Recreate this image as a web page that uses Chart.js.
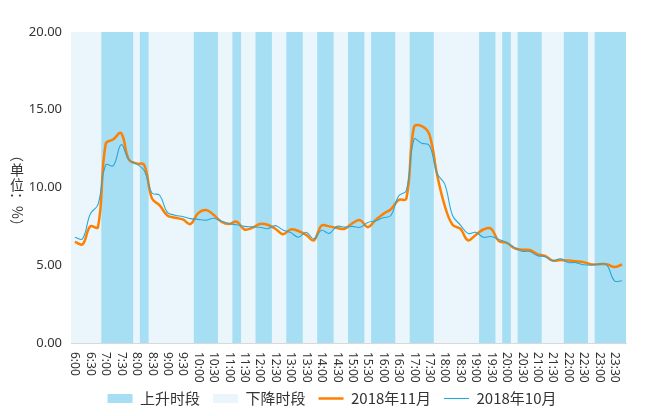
<!DOCTYPE html>
<html>
<head>
<meta charset="utf-8">
<script src="https://cdn.jsdelivr.net/npm/chart.js@4"></script>
<style>
  html, body { margin: 0; padding: 0; background: #fff; }
  #wrap { width: 664px; height: 416px; position: relative; }
</style>
</head>
<body>
<div id="wrap"><canvas id="chart"></canvas></div>
<script>
// 15-minute slots, 6:00 - 23:45
const times = [
  '6:00','6:15','6:30','6:45','7:00','7:15','7:30','7:45','8:00','8:15','8:30','8:45',
  '9:00','9:15','9:30','9:45','10:00','10:15','10:30','10:45','11:00','11:15','11:30','11:45',
  '12:00','12:15','12:30','12:45','13:00','13:15','13:30','13:45','14:00','14:15','14:30','14:45',
  '15:00','15:15','15:30','15:45','16:00','16:15','16:30','16:45','17:00','17:15','17:30','17:45',
  '18:00','18:15','18:30','18:45','19:00','19:15','19:30','19:45','20:00','20:15','20:30','20:45',
  '21:00','21:15','21:30','21:45','22:00','22:15','22:30','22:45','23:00','23:15','23:30','23:45'
];
const tickLabels = [
  '6:00','6:30','7:00','7:30','8:00','8:30','9:00','9:30','10:00','10:30','11:00','11:30',
  '12:00','12:30','13:00','13:30','14:00','14:30','15:00','15:30','16:00','16:30','17:00','17:30',
  '18:00','18:30','19:00','19:30','20:00','20:30','21:00','21:30','22:00','22:30','23:00','23:30'
];

// 1 = 上升时段, 0 = 下降时段
const rising = [
  0,0,0,0,1,1,1,1,0,1,0,0,
  0,0,0,0,1,1,1,0,0,1,0,0,
  1,1,0,0,1,1,0,0,1,1,0,0,
  1,1,0,1,1,1,0,0,1,1,1,0,
  0,0,0,0,0,1,1,0,1,0,1,1,
  1,0,0,0,1,1,1,0,1,1,1,1
];

const nov2018 = [
  6.5, 6.35, 7.5, 7.45, 12.8, 13.1, 13.5, 11.8, 11.55, 11.45, 9.3, 8.85,
  8.2, 8.05, 7.95, 7.65, 8.35, 8.55, 8.25, 7.8, 7.65, 7.8, 7.3, 7.4,
  7.65, 7.6, 7.35, 7.0, 7.3, 7.2, 6.95, 6.6, 7.55, 7.5, 7.4, 7.35,
  7.7, 7.9, 7.45, 7.9, 8.3, 8.6, 9.2, 9.27, 13.9, 13.95, 13.4, 10.8,
  8.8, 7.6, 7.35, 6.6, 6.95, 7.3, 7.35, 6.55, 6.45, 6.1, 6.0, 5.98,
  5.72, 5.6, 5.3, 5.33, 5.3, 5.25, 5.2, 5.05, 5.07, 5.07, 4.88, 5.05
];
const oct2018 = [
  6.8, 6.7, 8.3, 8.9, 11.45, 11.4, 12.75, 11.8, 11.5, 11.1, 9.65, 9.5,
  8.4, 8.22, 8.13, 8.0, 7.95, 7.9, 8.02, 7.85, 7.68, 7.6, 7.5, 7.47,
  7.44, 7.35, 7.55, 7.27, 7.1, 6.8, 7.12, 6.7, 7.25, 7.05, 7.5, 7.45,
  7.5, 7.44, 7.75, 7.85, 8.05, 8.2, 9.45, 9.8, 13.1, 12.85, 12.7, 10.9,
  10.2, 8.2, 7.6, 7.05, 7.12, 6.8, 6.85, 6.65, 6.47, 6.15, 5.9, 5.88,
  5.62, 5.55, 5.3, 5.42, 5.18, 5.17, 5.03, 5.02, 5.07, 5.03, 4.0, 4.0
];

const yMax = 20;
const yTitle = ['（', '单', '位', '：', '%', '）'];
const upright = ['单', '位'];

// x labels read top-to-bottom, plus the vertical y title
const customText = {
  id: 'customText',
  afterDraw(chart) {
    const ctx = chart.ctx;
    const xs = chart.scales.x;
    const area = chart.chartArea;
    ctx.save();
    ctx.fillStyle = '#333';
    ctx.font = '12px "Noto Sans", sans-serif';
    ctx.textAlign = 'left';
    ctx.textBaseline = 'middle';
    tickLabels.forEach(lbl => {
      const px = xs.getPixelForValue(times.indexOf(lbl));
      ctx.save();
      ctx.translate(px, area.bottom + 9);
      ctx.rotate(Math.PI / 2);
      ctx.fillText(lbl, 0, 0);
      ctx.restore();
    });

    // y title: CJK upright, the rest turned
    ctx.font = '14px "Noto Sans CJK SC", sans-serif';
    ctx.textAlign = 'center';
    const sizes = yTitle.map(c => upright.includes(c) ? 15 : ctx.measureText(c).width);
    const total = sizes.reduce((s, v) => s + v, 0);
    let y = (area.top + area.bottom) / 2 + 3 - total / 2;
    const x = 17;
    yTitle.forEach((c, i) => {
      ctx.save();
      ctx.translate(x, y + sizes[i] / 2);
      if (!upright.includes(c)) ctx.rotate(Math.PI / 2);
      ctx.fillText(c, 0, 0);
      ctx.restore();
      y += sizes[i];
    });
    ctx.restore();
  }
};

new Chart(document.getElementById('chart'), {
  data: {
    labels: times,
    datasets: [
      {
        type: 'bar', label: '上升时段',
        data: rising.map(f => f ? yMax : null),
        backgroundColor: '#a6dff3', borderWidth: 0,
        barPercentage: 1, categoryPercentage: 1, grouped: false,
        inflateAmount: 0.5, order: 3, pointStyle: 'rect'
      },
      {
        type: 'bar', label: '下降时段',
        data: rising.map(f => f ? null : yMax),
        backgroundColor: '#eaf6fb', borderWidth: 0,
        barPercentage: 1, categoryPercentage: 1, grouped: false,
        inflateAmount: 0.5, order: 4, pointStyle: 'rect'
      },
      {
        type: 'line', label: '2018年11月', data: nov2018,
        borderColor: '#ff8000', backgroundColor: '#ff8000', borderWidth: 2.5,
        pointRadius: 0, tension: 0.4, order: 2, pointStyle: 'line'
      },
      {
        type: 'line', label: '2018年10月', data: oct2018,
        borderColor: '#2aa6d8', backgroundColor: '#2aa6d8', borderWidth: 1.1,
        pointRadius: 0, tension: 0.4, order: 1, pointStyle: 'line'
      }
    ]
  },
  options: {
    responsive: true,
    maintainAspectRatio: false,
    animation: false,
    layout: { padding: { left: 0, right: 0, top: 32, bottom: 0 } },
    plugins: {
      tooltip: { enabled: false },
      legend: {
        position: 'bottom',
        labels: {
          usePointStyle: true, pointStyleWidth: 25, boxHeight: 9,
          padding: 13, color: '#333',
          font: { size: 15, family: '"Noto Sans CJK SC", sans-serif' },
          sort: (a, b) => a.datasetIndex - b.datasetIndex
        }
      }
    },
    scales: {
      x: {
        type: 'category', offset: true,
        grid: { display: false },
        border: { color: '#d9d9d9' },
        ticks: { display: false },
        afterFit: s => { s.height = 35; }
      },
      y: {
        min: 0, max: yMax,
        grid: { color: '#d9d9d9', drawTicks: false },
        border: { display: false },
        ticks: {
          stepSize: 5, padding: 9, color: '#333',
          font: { size: 13, family: '"Noto Sans", sans-serif' },
          callback: v => v.toFixed(2)
        },
        afterFit: s => { s.width = 71; }
      },
      // empty right margin so the legend centres on the whole canvas
      yRight: {
        position: 'right', display: true,
        grid: { display: false, drawTicks: false },
        border: { display: false },
        ticks: { display: false },
        afterFit: s => { s.width = 38; }
      }
    }
  },
  plugins: [customText]
});
</script>
</body>
</html>
